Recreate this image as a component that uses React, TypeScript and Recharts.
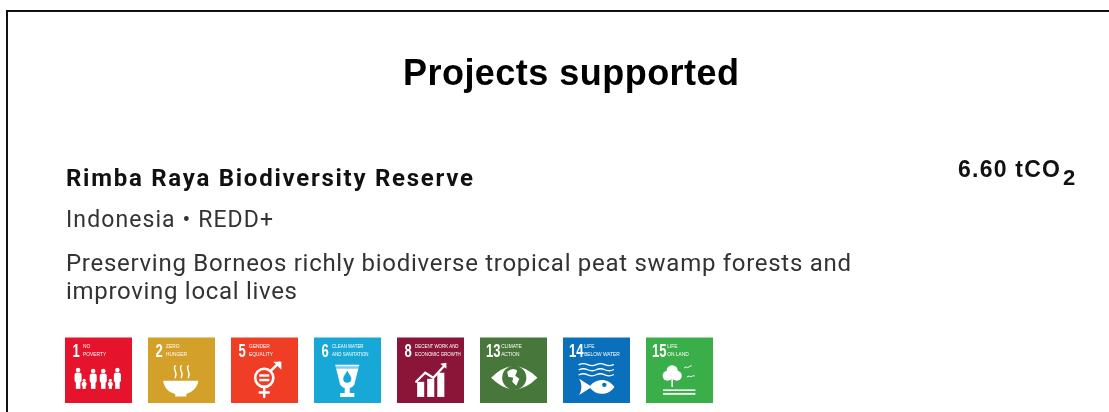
import React from "react";
import { BarChart, Bar, XAxis, YAxis } from "recharts";

const goals = [1, 2, 5, 6, 8, 13, 14, 15];
const tileValues = [1, 1, 1, 1, 1, 1, 1, 1];
const colors = ["#e5132b", "#d3a029", "#f03e26", "#17a8d8", "#8a1538", "#47773a", "#0a70bb", "#3aae49"];
const captionsTop = ["NO", "ZERO", "GENDER", "CLEAN WATER", "DECENT WORK AND", "CLIMATE", "LIFE", "LIFE"];
const captionsBottom = ["POVERTY", "HUNGER", "EQUALITY", "AND SANITATION", "ECONOMIC GROWTH", "ACTION", "BELOW WATER", "ON LAND"];
const titleText = "Projects supported";
const projectName = "Rimba Raya Biodiversity Reserve";
const projectMeta = "Indonesia • REDD+";
const descriptionLines = [
  "Preserving Borneos richly biodiverse tropical peat swamp forests and",
  "improving local lives",
];
const tonnesText = "6.60 tCO";

const data = goals.map((goal, i) => ({
  goal,
  value: tileValues[i],
  color: colors[i],
  top: captionsTop[i],
  bottom: captionsBottom[i],
}));

const Person = ({ x, top, w }: { x: number; top: number; w: number }) => (
  <g fill="#fff">
    <circle cx={x} cy={top + w * 0.45} r={w * 0.45} />
    <rect x={x - w * 0.7} y={top + w} width={w * 1.4} rx={w * 0.4} height={(51 - top - w) * 0.6} />
    <rect x={x - w * 0.45} y={top + w} width={w * 0.9} height={51 - top - w} />
  </g>
);

const Icon = ({ goal, color }: { goal: number; color: string }) => {
  const line = { fill: "none", stroke: "#fff", strokeLinecap: "round" as const };
  switch (goal) {
    case 1:
      return (
        <g>
          <Person x={13} top={30} w={5} />
          <Person x={19} top={41} w={3.4} />
          <Person x={28} top={31} w={5} />
          <Person x={38} top={31} w={5} />
          <Person x={45} top={41} w={3.4} />
          <Person x={52} top={30} w={5} />
        </g>
      );
    case 2:
      return (
        <g>
          <path d="M15 43 H50 C49 51 42 55 38 56 V58.5 H27 V56 C22 55 16 51 15 43 Z" fill="#fff" />
          <path d="M27 28 C24 32 30 34 27 40" {...line} strokeWidth={1.3} />
          <path d="M33 28 C30 32 36 34 33 40" {...line} strokeWidth={1.3} />
          <path d="M40 28 C37 32 43 34 40 40" {...line} strokeWidth={1.3} />
        </g>
      );
    case 5:
      return (
        <g>
          <circle cx={33} cy={40} r={9} fill="none" stroke="#fff" strokeWidth={2.6} />
          <rect x={28} y={36.5} width={10} height={2.4} fill="#fff" />
          <rect x={28} y={41} width={10} height={2.4} fill="#fff" />
          <path d="M33 49 V59 M28.5 54.5 H37.5 M39.5 33 L48 25" {...line} strokeWidth={2.4} />
          <path d="M42 24 H50 V32 Z" fill="#fff" />
        </g>
      );
    case 6:
      return (
        <g>
          <path d="M21 27 H45 L40 47 Q38 50 35.5 50 V55 H40 V59 H26 V55 H30.5 V50 Q28 50 26 47 Z" fill="#fff" />
          <path d="M21 28.5 H45 V31 H21 Z" fill={color} opacity={0.55} />
          <path d="M33 33 C30 38 29 39 29 41 A4 4 0 0 0 37 41 C37 39 36 38 33 33 Z" fill={color} />
        </g>
      );
    case 8:
      return (
        <g>
          <rect x={20} y={44} width={7} height={15} fill="#fff" />
          <rect x={30} y={41} width={7} height={18} fill="#fff" />
          <rect x={40} y={35} width={7} height={24} fill="#fff" />
          <path d="M19 44 L28 35 L36 40 L47 28" {...line} strokeWidth={2.2} />
          <path d="M43 26 L49 25 L49 31 Z" fill="#fff" />
        </g>
      );
    case 13:
      return (
        <g>
          <path d="M11 40 Q34 17 57 40 Q34 63 11 40 Z" fill="#fff" />
          <circle cx={34} cy={40} r={12} fill={color} />
          <path d="M27 34 Q33 29 37 33 L35 38 L39 41 L36 48 L32 44 L33 40 L28 39 Z" fill="#fff" />
        </g>
      );
    case 14:
      return (
        <g>
          <path d="M16 27 q4 -2 8.5 0 t8.5 0 t8.5 0 t8.5 0" {...line} strokeWidth={1.3} />
          <path d="M16 32 q4 -2 8.5 0 t8.5 0 t8.5 0 t8.5 0" {...line} strokeWidth={1.3} />
          <path d="M16 37 q4 -2 8.5 0 t8.5 0 t8.5 0 t8.5 0" {...line} strokeWidth={1.3} />
          <path d="M16 41 L27 48 C33 40 45 40 51 49 C45 58 33 58 27 50 L16 57 C19 52 19 46 16 41 Z" fill="#fff" />
          <circle cx={41} cy={47} r={2.2} fill={color} />
        </g>
      );
    default:
      return (
        <g>
          <circle cx={26} cy={33} r={5.5} fill="#fff" />
          <circle cx={21.5} cy={38} r={5} fill="#fff" />
          <circle cx={30.5} cy={38} r={5} fill="#fff" />
          <rect x={25.2} y={40} width={1.6} height={9} fill="#fff" />
          <rect x={17} y={51.5} width={32} height={1.5} fill="#fff" />
          <rect x={17} y={55} width={32} height={1.8} fill="#fff" />
          <path d="M38 30 q2 -2 3.5 0 q2 -2 3.5 -2 M41 39 q2 -1.5 3.5 0 q2 -1.5 3.5 -1" {...line} strokeWidth={0.9} />
        </g>
      );
  }
};

const narrow = "'Liberation Sans Narrow', 'Liberation Sans'";

const Tile = (props: any) => {
  const { x, y, width, height, payload } = props;
  const s = width / 66.5;
  const isWide = payload.goal > 9;
  const capX = isWide ? 21 : 18;
  const capSize = payload.bottom.length > 13 ? 4.4 : 4.8;
  return (
    <g transform={`translate(${x},${y}) scale(${s},${height / 65})`} style={{ filter: "blur(0.5px)" }}>
      <rect width={66.5} height={65} fill={payload.color} />
      <g transform={`translate(${isWide ? 6 : 7.5},19) scale(0.72,1)`}>
        <text x={0} y={0} fill="#fff" fontFamily={narrow} fontWeight={700} fontSize={18}>
          {payload.goal}
        </text>
      </g>
      <text x={capX} y={10.5} fill="#fff" fontFamily={narrow} fontSize={capSize}>
        {payload.top}
      </text>
      <text x={capX} y={18.5} fill="#fff" fontFamily={narrow} fontSize={capSize}>
        {payload.bottom}
      </text>
      <Icon goal={payload.goal} color={payload.color} />
    </g>
  );
};

const soft = { filter: "blur(0.35px)" };
const bodyFont = "Roboto, 'Liberation Sans', sans-serif";
const headFont = "'Liberation Sans', Arial, sans-serif";

export default function App() {
  return (
    <div style={{ position: "absolute", left: 0, top: 0, width: 1109, height: 412, background: "#fff", overflow: "hidden" }}>
      <BarChart
        width={1109}
        height={412}
        data={data}
        margin={{ top: 337.5, right: 388, bottom: 9, left: 57 }}
        barCategoryGap={8}
      >
        <XAxis dataKey="goal" type="category" hide />
        <YAxis type="number" domain={[0, 1]} hide />
        <Bar dataKey="value" isAnimationActive={false} shape={Tile} />
        <rect x={7} y={11} width={1200} height={600} fill="none" stroke="#111" strokeWidth={2} />
        <text x={571} y={85} textAnchor="middle" fontFamily={headFont} fontWeight={700} fontSize={36} fill="#000" textLength={336} style={soft}>
          {titleText}
        </text>
        <text x={66} y={186} fontFamily={bodyFont} fontWeight={700} fontSize={24} fill="#111" textLength={407} style={soft}>
          {projectName}
        </text>
        <text x={66} y={227} fontFamily={bodyFont} fontWeight={400} fontSize={23} fill="#333" textLength={207} style={soft}>
          {projectMeta}
        </text>
        {descriptionLines.map((t, i) => (
          <text key={t} x={66} y={271 + i * 28} fontFamily={bodyFont} fontWeight={400} fontSize={24} fill="#333" textLength={i === 0 ? 785 : 231} style={soft}>
            {t}
          </text>
        ))}
        <text x={958} y={177} fontFamily={headFont} fontWeight={700} fontSize={23} fill="#111" textLength={102} style={soft}>
          {tonnesText}
        </text>
        <text x={1063} y={185} fontFamily={headFont} fontWeight={700} fontSize={22} fill="#111" style={soft}>
          2
        </text>
      </BarChart>
    </div>
  );
}
